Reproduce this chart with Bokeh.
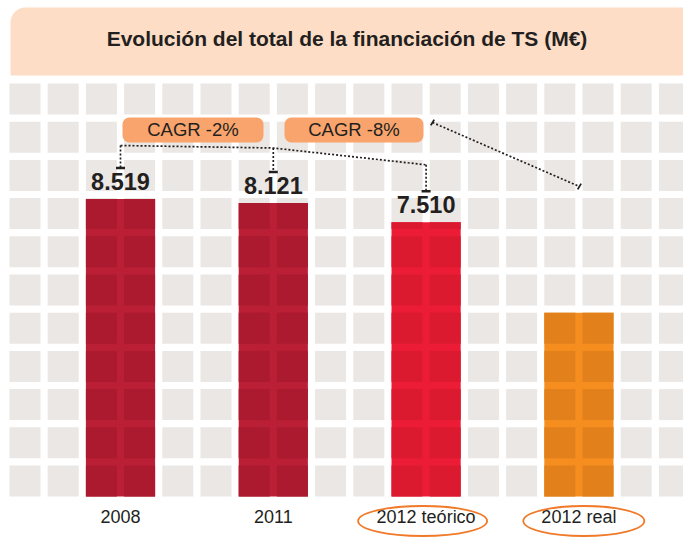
from bokeh.plotting import figure
from bokeh.models import Range1d, BoxAnnotation, Label
from bokeh.embed import file_html
from bokeh.resources import INLINE
from bokeh.core.properties import value

# ---------------- data ----------------
title = "Evolución del total de la financiación de TS (M€)"
categories = ["2008", "2011", "2012 teórico", "2012 real"]
values_meur = [8519, 8121, 7510, None]          # labelled totals (M€); 2012 real has no label
value_labels = ["8.519", "8.121", "7.510", ""]
bar_height_rows = [7.79, 7.68, 7.18, 4.81]      # drawn heights in background-grid rows (chart is not to scale)
cagr_labels = ["CAGR -2%", "CAGR -8%"]
circled_categories = ["2012 teórico", "2012 real"]

# ---------------- styles / layout ----------------
bar_colors = ["#AB1A2F", "#AB1A2F", "#DB1A30", "#E2801C"]
stripe_colors = ["#BA1F36", "#BA1F36", "#EC1C36", "#F68E1F"]
CELL_COLOR = "#EBE7E4"
TITLE_BG = "#FDDDC6"
CAGR_BG = "#F9A46C"
INK = "#231F20"
CIRCLE = "#F07A2A"
FONT = "Liberation Sans"

PITCH = 38.2            # pixel pitch of the background grid
CELL = 31.0 / PITCH     # cell size in grid units
N_COLS, N_ROWS = 18, 11
W, H = 683, 537
BASE_FIX = 0.42         # em: lift applied to alphabetic text anchors


def gx(px):
    return (px - 9.0) / PITCH


def gy(py):
    return (496.0 - py) / PITCH


def ty(py, size):
    return gy(py - BASE_FIX * size)


p = figure(width=W, height=H, output_backend="svg", toolbar_location=None,
           x_range=Range1d(gx(0), gx(W)), y_range=Range1d(gy(H), gy(0)),
           x_axis_type=None, y_axis_type=None, min_border=0,
           background_fill_color="white", border_fill_color="white")
p.outline_line_color = None
p.grid.visible = False

# background grid of cells
cl, cr, cb, ct = [], [], [], []
for c in range(N_COLS):
    for r in range(N_ROWS):
        cl.append(c)
        cr.append(c + CELL)
        cb.append(r)
        ct.append(r + CELL)
p.quad(left=cl, right=cr, bottom=cb, top=ct, fill_color=CELL_COLOR, line_color=None)

# bars: two cells wide, lighter stripes where the grid gaps are
n = len(categories)
bar_left = [2 + 4 * i for i in range(n)]
bar_right = [l + 1 + CELL for l in bar_left]
bar_x = [(l + r) / 2 for l, r in zip(bar_left, bar_right)]
p.quad(left=bar_left, right=bar_right, bottom=0, top=bar_height_rows,
       fill_color=stripe_colors, line_color=None)
bl, br, bb, bt, bc = [], [], [], [], []
for i, h in enumerate(bar_height_rows):
    for c in (bar_left[i], bar_left[i] + 1):
        r = 0
        while r < h:
            bl.append(c)
            br.append(c + CELL)
            bb.append(r)
            bt.append(min(r + CELL, h))
            bc.append(bar_colors[i])
            r += 1
p.quad(left=bl, right=br, bottom=bb, top=bt, fill_color=bc, line_color=None)

# value labels
VAL_SIZE = 23.5
lab_idx = [i for i in range(n) if value_labels[i]]
p.text(x=[bar_x[i] for i in lab_idx], y=[bar_height_rows[i] for i in lab_idx],
       text=[value_labels[i] for i in lab_idx], y_offset=-(7.5 + BASE_FIX * VAL_SIZE),
       text_align="center", text_baseline="alphabetic",
       text_font=value(FONT), text_font_style="bold", text_font_size=f"{VAL_SIZE}px",
       text_color=INK)

# tick markers above labels
tick_y = [bar_height_rows[i] + 31.0 / PITCH for i in lab_idx]
tx = [bar_x[i] for i in lab_idx]
p.segment(x0=[x - 4.5 / PITCH for x in tx], y0=tick_y, x1=[x + 4.5 / PITCH for x in tx], y1=tick_y,
          line_color=INK, line_width=2.5)

# dotted connector for CAGR -2% / -8%
conn_y = [gy(145), gy(147.5), gy(164.3)]
p.line(x=tx, y=conn_y, line_color=INK, line_width=1.7, line_dash="2 2")
p.segment(x0=tx, y0=conn_y, x1=tx, y1=tick_y, line_color=INK, line_width=1.7, line_dash="2 2")

# dotted projection to 2012 real
sx0, sy0 = gx(432), gy(122)
sx1, sy1 = bar_x[3] + 0.5 / PITCH, gy(186)
p.line(x=[sx0, sx1], y=[sy0, sy1], line_color=INK, line_width=1.7, line_dash="2 2")
dx, dy = 1.7 / PITCH, 2.9 / PITCH
p.segment(x0=[sx0 - dx, sx1 - dx], y0=[sy0 - dy, sy1 - dy], x1=[sx0 + dx, sx1 + dx], y1=[sy0 + dy, sy1 + dy],
          line_color=INK, line_width=1.8)

# x labels
XL_SIZE = 18
p.text(x=bar_x, y=[ty(524, XL_SIZE)] * n, text=categories, text_align="center", text_baseline="alphabetic",
       text_font=value(FONT), text_font_size=f"{XL_SIZE}px", text_color=INK)

# orange circles round the 2012 labels
ci = [categories.index(c) for c in circled_categories]
p.ellipse(x=[bar_x[ci[0]] - 3.5 / PITCH, bar_x[ci[1]] + 4.9 / PITCH], y=[gy(520.5)] * 2,
          width=[129 / PITCH, 121 / PITCH], height=[30 / PITCH] * 2,
          fill_color=None, line_color=CIRCLE, line_width=1.8)

# title box
TITLE_SIZE = 21
p.add_layout(BoxAnnotation(left=gx(10), right=gx(720), top=gy(7), bottom=gy(75),
                           fill_color=TITLE_BG, fill_alpha=1.0, line_color=None,
                           border_radius=dict(top_left=15, top_right=15, bottom_right=0, bottom_left=0)))
p.add_layout(Label(x=gx(346.5), y=ty(47, TITLE_SIZE), text=title, text_align="center",
                   text_baseline="alphabetic", text_font=FONT, text_font_style="bold",
                   text_font_size=f"{TITLE_SIZE}px", text_color=INK))

# CAGR boxes
CAGR_SIZE = 18.5
boxes = [(122, 263), (284, 423)]
for (l, r), txt in zip(boxes, cagr_labels):
    p.add_layout(BoxAnnotation(left=gx(l), right=gx(r), top=gy(117), bottom=gy(142),
                               fill_color=CAGR_BG, fill_alpha=1.0, line_color=None, border_radius=7))
    p.add_layout(Label(x=(gx(l) + gx(r)) / 2, y=ty(136.7, CAGR_SIZE), text=txt, text_align="center",
                       text_baseline="alphabetic", text_font=FONT, text_font_size=f"{CAGR_SIZE}px",
                       text_color=INK))

open("out.html", "w").write(file_html(p, INLINE))
